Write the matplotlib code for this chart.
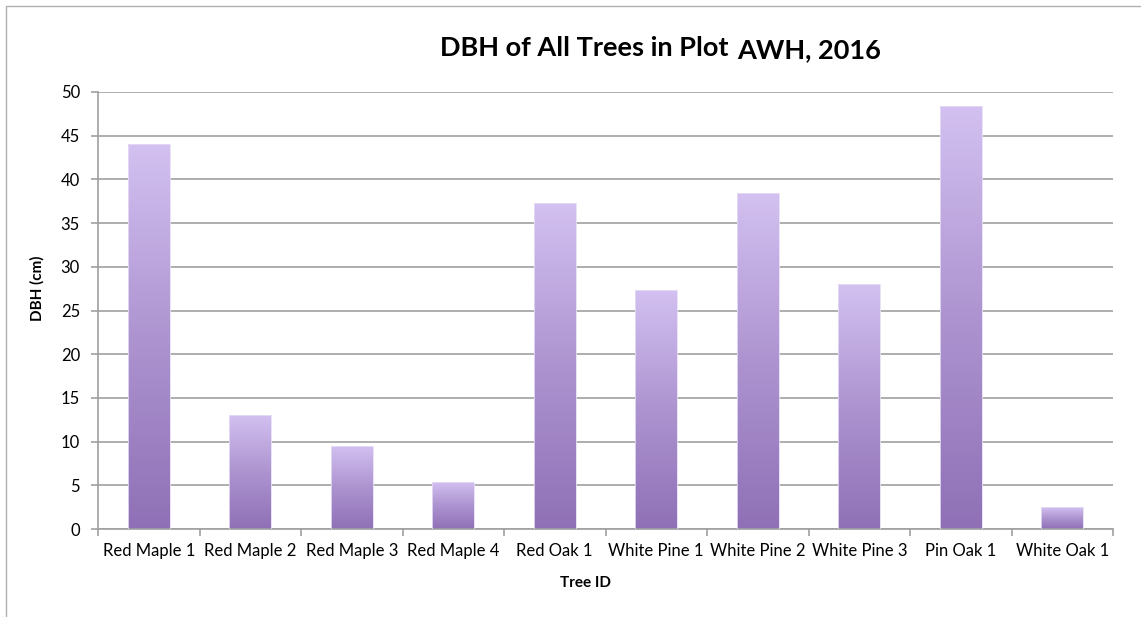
import numpy as np
import matplotlib.pyplot as plt
from matplotlib.colors import LinearSegmentedColormap
from matplotlib.patches import Rectangle

# === DATA ===
trees = ["Red Maple 1", "Red Maple 2", "Red Maple 3", "Red Maple 4", "Red Oak 1",
         "White Pine 1", "White Pine 2", "White Pine 3", "Pin Oak 1", "White Oak 1"]
dbh_cm = [44.0, 13.1, 9.5, 5.4, 37.3, 27.4, 38.4, 28.0, 48.4, 2.5]
y_ticks = list(range(0, 55, 5))

plt.rcParams['font.family'] = ['Lato', 'DejaVu Sans']
W, H = 1141, 617
fig = plt.figure(figsize=(W / 100, H / 100), dpi=100)
ax = fig.add_axes([98 / W, 1 - 529 / H, (1113 - 98) / W, (529 - 92) / H])

# outer chart frame (only left/top visible in the crop)
fig.patches.append(Rectangle((6 / W, -0.1), 1.2, 1 - 6 / H + 0.1, transform=fig.transFigure,
                             fill=False, edgecolor="#b0b0b0", linewidth=1.0))

# === BARS with vertical gradient ===
grad = LinearSegmentedColormap.from_list("lav", ["#8f70b6", "#ad94d0", "#d3c1f1"])
x = np.arange(len(trees))
width = 0.41
bars = ax.bar(x, dbh_cm, width=width, color="none", edgecolor="#e6ddf5", linewidth=0.6, zorder=3)
g = np.linspace(0, 1, 256).reshape(-1, 1)
for b in bars:
    bx, by = b.get_x(), b.get_y()
    bw, bh = b.get_width(), b.get_height()
    im = ax.imshow(g, cmap=grad, origin="lower", aspect="auto",
                   extent=[bx, bx + bw, by, by + bh], zorder=2)
    im.set_clip_path(b)

# === AXES STYLING ===
ax.set_xlim(-0.5, len(trees) - 0.5)
ax.set_ylim(0, 50)
ax.set_yticks(y_ticks)
ax.yaxis.grid(True, color="#a8a8a8", linewidth=1.3)
ax.set_axisbelow(True)
for s in ["top", "right"]:
    ax.spines[s].set_visible(False)
for s in ["left", "bottom"]:
    ax.spines[s].set_color("#a0a0a0")
    ax.spines[s].set_linewidth(1.2)

ax.set_xticks(x)
ax.set_xticklabels(trees, fontsize=12)
ax.tick_params(axis="x", length=0, pad=10)
ax.set_xticks(np.arange(-0.5, len(trees) + 0.5, 1), minor=True)
ax.tick_params(axis="x", which="minor", length=5, color="#a0a0a0", width=1.2)
ax.tick_params(axis="y", length=5, color="#a0a0a0", width=1.2, labelsize=12, pad=8)

fig.text(37 / W, 1 - 288 / H, "DBH (cm)", rotation=90, fontsize=11, fontweight="bold",
         ha="center", va="center")
fig.text(586 / W, 1 - 583 / H, "Tree ID", fontsize=11, fontweight="bold",
         ha="center", va="center")

# title in two pieces like the original
fig.text(728 / W, 1 - 48 / H, "DBH of All Trees in Plot", fontsize=19.5, fontweight="bold",
         ha="right", va="center")
fig.text(737 / W, 1 - 50 / H, "AWH, 2016", fontsize=19.5, fontweight="bold",
         ha="left", va="center")

plt.savefig("out.png", dpi=100)
